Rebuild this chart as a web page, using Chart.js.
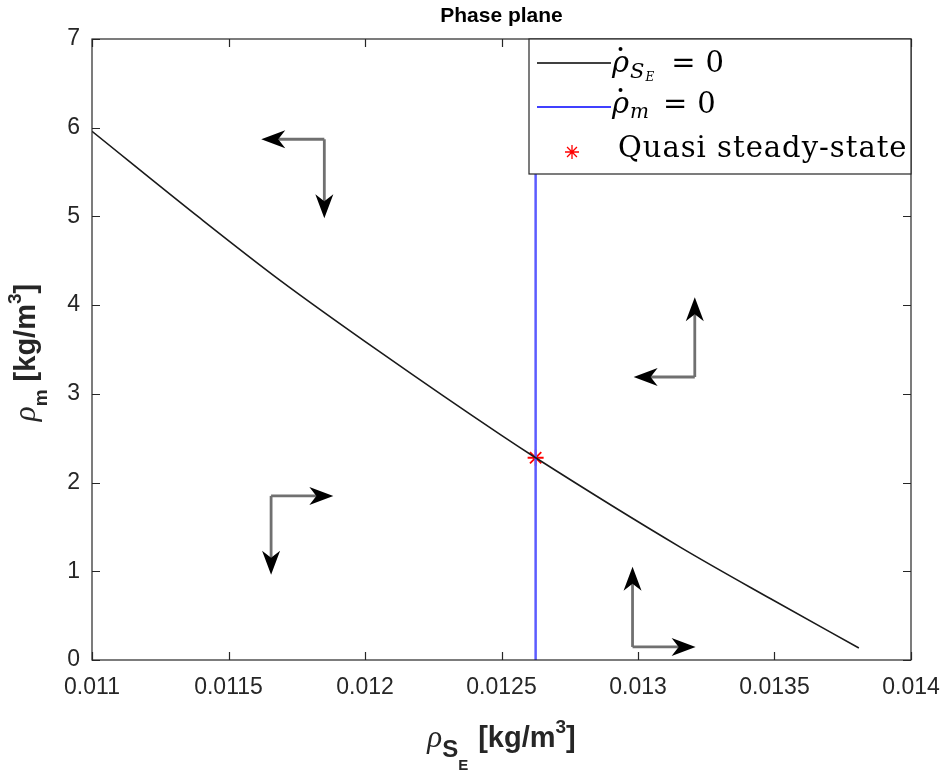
<!DOCTYPE html>
<html>
<head>
<meta charset="utf-8">
<script src="https://cdn.jsdelivr.net/npm/chart.js@4.4.0/dist/chart.umd.min.js"></script>
<style>
  html, body { margin: 0; padding: 0; background: #fff; }
  #wrap { width: 947px; height: 774px; }
</style>
</head>
<body>
<div id="wrap"><canvas id="phase"></canvas></div>
<script>
// nullcline of rho_SE (black curve)
const nullSEx = [0.011, 0.011396, 0.011689, 0.012056, 0.012496, 0.012625, 0.013156, 0.013486, 0.013809];
const nullSEy = [5.96, 4.98, 4.28, 3.47, 2.54, 2.28, 1.27, 0.69, 0.135];
// nullcline of rho_m (vertical blue line)
const nullMx = [0.012625, 0.012625];
const nullMy = [0, 7];
// quasi steady-state
const qssX = [0.012625];
const qssY = [2.28];

const xTickVals = [0.011, 0.0115, 0.012, 0.0125, 0.013, 0.0135, 0.014];
const xTickLabels = ['0.011', '0.0115', '0.012', '0.0125', '0.013', '0.0135', '0.014'];
const yTickVals = [0, 1, 2, 3, 4, 5, 6, 7];
const yTickLabels = ['0', '1', '2', '3', '4', '5', '6', '7'];

// direction field arrows: corner, x of the horizontal tip, y of the vertical tip
const arrowCornerX = [0.011851, 0.013208, 0.011656, 0.012980];
const arrowCornerY = [5.87, 3.19, 1.85, 0.147];
const arrowTipX = [0.011620, 0.012984, 0.011884, 0.013211];
const arrowTipY = [4.98, 4.09, 0.96, 1.05];

const toPts = (xs, ys) => xs.map((x, i) => ({ x: x, y: ys[i] }));

// draws a list of text runs side by side, returns the end x
function runs(ctx, x, y, list, measureOnly) {
  let cx = x;
  list.forEach(r => {
    ctx.font = r.font;
    if (r.gap) cx += r.gap;
    if (!measureOnly) {
      ctx.fillText(r.t, cx, y + (r.dy || 0));
      if (r.dot) {
        const w = ctx.measureText(r.t).width;
        ctx.beginPath();
        ctx.arc(cx + w * r.dot[0], y + r.dot[1], r.dot[2], 0, Math.PI * 2);
        ctx.fill();
      }
    }
    cx += ctx.measureText(r.t).width;
  });
  return cx;
}

function drawArrow(ctx, x0, y0, x1, y1) {
  const dx = x1 - x0, dy = y1 - y0;
  const len = Math.hypot(dx, dy);
  const ux = dx / len, uy = dy / len;
  const nx = -uy, ny = ux;
  const L = 24, hw = 9, notch = 7;
  ctx.strokeStyle = '#707070';
  ctx.lineWidth = 2.8;
  ctx.beginPath();
  ctx.moveTo(x0, y0);
  ctx.lineTo(x1 - ux * (L - notch), y1 - uy * (L - notch));
  ctx.stroke();
  ctx.fillStyle = '#000';
  ctx.beginPath();
  ctx.moveTo(x1, y1);
  ctx.lineTo(x1 - ux * L + nx * hw, y1 - uy * L + ny * hw);
  ctx.lineTo(x1 - ux * (L - notch), y1 - uy * (L - notch));
  ctx.lineTo(x1 - ux * L - nx * hw, y1 - uy * L - ny * hw);
  ctx.closePath();
  ctx.fill();
}

const decor = {
  id: 'decor',
  afterDatasetsDraw(chart) {
    const ctx = chart.ctx;
    const a = chart.chartArea;
    const xs = chart.scales.x, ys = chart.scales.y;
    ctx.save();

    // direction arrows
    arrowCornerX.forEach((cx, i) => {
      const px = xs.getPixelForValue(cx), py = ys.getPixelForValue(arrowCornerY[i]);
      drawArrow(ctx, px, py, xs.getPixelForValue(arrowTipX[i]), py);
      drawArrow(ctx, px, py, px, ys.getPixelForValue(arrowTipY[i]));
    });

    // axes box with inward ticks on all sides
    ctx.strokeStyle = '#262626';
    ctx.lineWidth = 1.2;
    ctx.strokeRect(a.left, a.top, a.right - a.left, a.bottom - a.top);
    const tl = 8;
    ctx.beginPath();
    xTickVals.forEach(v => {
      const p = Math.round(xs.getPixelForValue(v)) + 0.5;
      ctx.moveTo(p, a.bottom); ctx.lineTo(p, a.bottom - tl);
      ctx.moveTo(p, a.top); ctx.lineTo(p, a.top + tl);
    });
    yTickVals.forEach(v => {
      const p = Math.round(ys.getPixelForValue(v)) + 0.5;
      ctx.moveTo(a.left, p); ctx.lineTo(a.left + tl, p);
      ctx.moveTo(a.right, p); ctx.lineTo(a.right - tl, p);
    });
    ctx.stroke();

    // legend
    const lx = a.right - 382, ly = a.top, lw = 382, lh = 135;
    ctx.fillStyle = '#fff';
    ctx.fillRect(lx, ly, lw, lh);
    ctx.strokeStyle = '#262626';
    ctx.lineWidth = 1.2;
    ctx.strokeRect(lx, ly, lw, lh);

    ctx.lineWidth = 1.3;
    ctx.strokeStyle = '#000';
    ctx.beginPath(); ctx.moveTo(lx + 8, ly + 24); ctx.lineTo(lx + 82, ly + 24); ctx.stroke();
    ctx.strokeStyle = '#0000ff';
    ctx.beginPath(); ctx.moveTo(lx + 8, ly + 68); ctx.lineTo(lx + 82, ly + 68); ctx.stroke();
    ctx.strokeStyle = '#ff0000';
    Chart.helpers.drawPoint(ctx, { pointStyle: 'star', radius: 7, borderWidth: 1.8 }, lx + 43, ly + 113);

    const serif = '"DejaVu Serif", serif';
    ctx.fillStyle = '#000';
    ctx.textBaseline = 'alphabetic';
    ctx.textAlign = 'left';
    runs(ctx, lx + 83, ly + 33, [
      { t: 'ρ', font: 'italic 29px ' + serif, dot: [0.5, -23, 2] },
      { t: 'S', font: 'italic 21px ' + serif, dy: 6, gap: 1 },
      { t: 'E', font: 'italic 12px ' + serif, dy: 9, gap: 1 },
      { t: '=', font: '29px ' + serif, gap: 17 },
      { t: '0', font: '29px ' + serif, gap: 10 }
    ]);
    runs(ctx, lx + 83, ly + 74, [
      { t: 'ρ', font: 'italic 29px ' + serif, dot: [0.5, -23, 2] },
      { t: 'm', font: 'italic 20px ' + serif, dy: 5, gap: 1 },
      { t: '=', font: '29px ' + serif, gap: 14 },
      { t: '0', font: '29px ' + serif, gap: 10 }
    ]);
    ctx.font = '29px ' + serif;
    ctx.letterSpacing = '1px';
    ctx.fillText('Quasi steady-state', lx + 89, ly + 118);
    ctx.letterSpacing = '0px';

    ctx.restore();
  },
  afterDraw(chart) {
    const ctx = chart.ctx;
    const a = chart.chartArea;
    ctx.save();
    ctx.fillStyle = '#000';
    ctx.textAlign = 'center';
    ctx.textBaseline = 'alphabetic';
    ctx.font = 'bold 21px "Liberation Sans", Arial, sans-serif';
    ctx.fillText('Phase plane', (a.left + a.right) / 2, 22);

    ctx.textAlign = 'left';
    ctx.fillStyle = '#262626';
    const sans = '"Liberation Sans", Arial, sans-serif';
    const greek = '"Liberation Serif", serif';
    const xl = [
      { t: 'ρ', font: 'italic 31px ' + greek },
      { t: 'S', font: 'bold 24px ' + sans, dy: 10 },
      { t: 'E', font: 'bold 15px ' + sans, dy: 23 },
      { t: '[kg/m', font: 'bold 29px ' + sans, gap: 10 },
      { t: '3', font: 'bold 19px ' + sans, dy: -14 },
      { t: ']', font: 'bold 29px ' + sans }
    ];
    const xw = runs(ctx, 0, 0, xl, true);
    runs(ctx, (a.left + a.right) / 2 - xw / 2, 747, xl);

    const yl = [
      { t: 'ρ', font: 'italic 31px ' + greek },
      { t: 'm', font: 'bold 19px ' + sans, dy: 12 },
      { t: '[kg/m', font: 'bold 29px ' + sans, gap: 8 },
      { t: '3', font: 'bold 19px ' + sans, dy: -14 },
      { t: ']', font: 'bold 29px ' + sans }
    ];
    const yw = runs(ctx, 0, 0, yl, true);
    ctx.translate(35, (a.top + a.bottom) / 2 + 3);
    ctx.rotate(-Math.PI / 2);
    runs(ctx, -yw / 2, 0, yl);
    ctx.restore();
  }
};

new Chart(document.getElementById('phase'), {
  type: 'scatter',
  data: {
    datasets: [
      {
        label: 'rhoSE',
        data: toPts(nullSEx, nullSEy),
        showLine: true,
        borderColor: '#1a1a1a',
        borderWidth: 1.6,
        pointRadius: 0,
        cubicInterpolationMode: 'monotone'
      },
      {
        label: 'rhom',
        data: toPts(nullMx, nullMy),
        showLine: true,
        borderColor: '#5c5cff',
        borderWidth: 2.5,
        pointRadius: 0
      },
      {
        label: 'Quasi steady-state',
        data: toPts(qssX, qssY),
        pointStyle: 'star',
        pointRadius: 8,
        pointBorderWidth: 1.8,
        borderColor: '#ff0000',
        backgroundColor: '#ff0000'
      }
    ]
  },
  options: {
    responsive: true,
    maintainAspectRatio: false,
    animation: false,
    layout: { padding: { top: 39, right: 36, left: 0, bottom: 0 } },
    plugins: {
      legend: { display: false },
      tooltip: { enabled: false }
    },
    scales: {
      x: {
        type: 'linear',
        min: 0.011,
        max: 0.014,
        grid: { display: false, drawTicks: false },
        border: { display: false },
        afterBuildTicks: s => { s.ticks = xTickVals.map(v => ({ value: v })); },
        afterFit: s => { s.height = 114; s.paddingLeft = 0; s.paddingRight = 0; },
        ticks: {
          autoSkip: false,
          maxRotation: 0,
          padding: 14,
          color: '#262626',
          font: { family: '"Liberation Sans", Arial, sans-serif', size: 23 },
          callback: (v, i) => xTickLabels[i]
        }
      },
      y: {
        type: 'linear',
        min: 0,
        max: 7,
        grid: { display: false, drawTicks: false },
        border: { display: false },
        afterBuildTicks: s => { s.ticks = yTickVals.map(v => ({ value: v })); },
        afterFit: s => { s.width = 92; s.paddingTop = 0; s.paddingBottom = 0; },
        ticks: {
          autoSkip: false,
          padding: 12,
          color: '#262626',
          font: { family: '"Liberation Sans", Arial, sans-serif', size: 23 },
          callback: (v, i) => yTickLabels[i]
        }
      }
    }
  },
  plugins: [decor]
});
</script>
</body>
</html>
